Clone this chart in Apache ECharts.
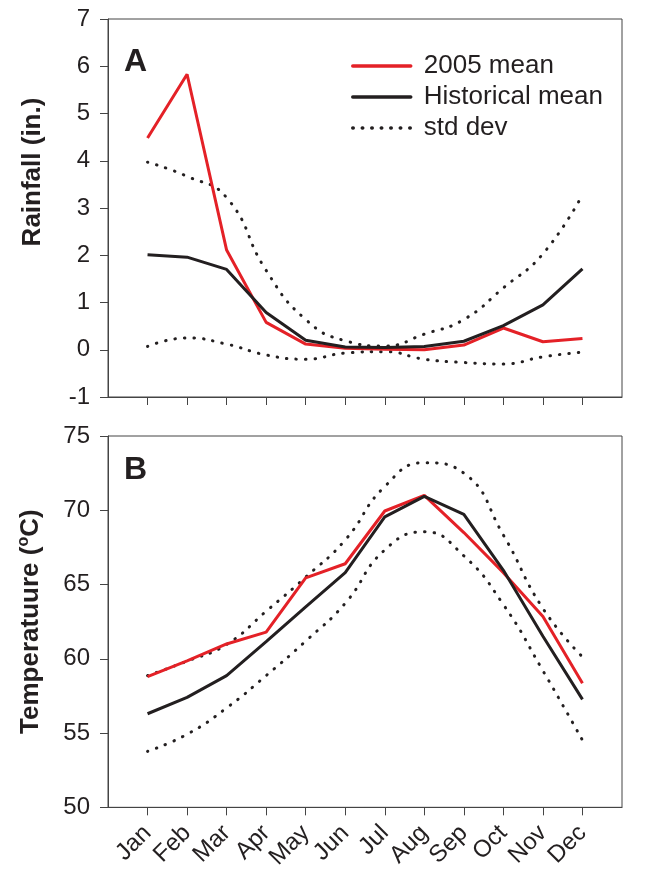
<!DOCTYPE html>
<html>
<head>
<meta charset="utf-8">
<script src="https://cdn.jsdelivr.net/npm/echarts@6/dist/echarts.min.js"></script>
<style>
  html, body { margin: 0; padding: 0; background: #fff; }
  #chart { width: 649px; height: 872px; }
</style>
</head>
<body>
<div id="chart"></div>
<script>
// months on the x axis (placed at 1..12)
const months = ['Jan', 'Feb', 'Mar', 'Apr', 'May', 'Jun', 'Jul', 'Aug', 'Sep', 'Oct', 'Nov', 'Dec'];

// panel A - rainfall (in.)
const rain2005 = [4.48, 5.83, 2.11, 0.58, 0.12, 0.03, 0.01, 0.0, 0.1, 0.46, 0.17, 0.24];
const rainHist = [2.01, 1.96, 1.70, 0.79, 0.20, 0.06, 0.05, 0.07, 0.18, 0.51, 0.95, 1.71];
const rainUpper = [3.97, 3.67, 3.22, 1.68, 0.64, 0.19, 0.08, 0.33, 0.64, 1.31, 2.03, 3.28];
const rainLower = [0.07, 0.25, 0.12, -0.11, -0.2, -0.07, -0.04, -0.2, -0.27, -0.3, -0.15, -0.05];

// panel B - temperature
const temp2005 = [58.8, 59.86, 61.0, 61.8, 65.45, 66.4, 69.95, 71.0, 68.5, 65.8, 62.85, 58.36];
const tempHist = [56.3, 57.4, 58.87, 61.15, 63.5, 65.8, 69.55, 70.94, 69.72, 65.96, 61.52, 57.27];
const tempUpper = [58.87, 59.84, 60.97, 63.2, 65.5, 68.0, 71.6, 73.2, 72.5, 68.33, 63.39, 60.13];
const tempLower = [53.77, 54.92, 56.69, 58.87, 61.19, 63.74, 67.33, 68.55, 66.93, 63.65, 59.2, 54.52];

const RED = '#e42127';
const BLACK = '#231f20';
const AXIS = '#444';
const FONT = 'Liberation Sans, Arial, sans-serif';
const monthPos = months.map((m, i) => i + 1);

function pts(arr) {
  return arr.map((v, i) => [i + 1, v]);
}

function xAxisFor(gridIndex, showLabels) {
  return {
    type: 'value', gridIndex: gridIndex, min: 0, max: 13,
    splitLine: { show: false },
    axisLine: { show: true, onZero: false, lineStyle: { color: AXIS, width: 1 } },
    axisTick: { show: true, length: 8, customValues: monthPos, lineStyle: { color: AXIS } },
    axisLabel: {
      show: showLabels, customValues: monthPos, rotate: 45, margin: 22,
      fontSize: 24, color: '#231f20', fontFamily: FONT,
      formatter: v => months[v - 1] || ''
    }
  };
}

function yAxisFor(gridIndex, min, max, interval, name) {
  return {
    type: 'value', gridIndex: gridIndex, min: min, max: max, interval: interval,
    splitLine: { show: false },
    axisLine: { show: true, lineStyle: { color: AXIS, width: 1 } },
    axisTick: { show: true, length: 8, lineStyle: { color: AXIS } },
    axisLabel: { fontSize: 24, color: '#231f20', fontFamily: FONT, margin: 18 },
    name: name.text,
    nameLocation: 'middle',
    nameGap: name.gap,
    nameTextStyle: name.style
  };
}

function meanLine(name, data, color, xi) {
  return {
    name: name, type: 'line', xAxisIndex: xi, yAxisIndex: xi, data: data,
    symbol: 'none', lineStyle: { color: color, width: 3 }, itemStyle: { color: color },
    z: 3
  };
}

function sdLine(data, xi) {
  return {
    name: 'std dev', type: 'line', xAxisIndex: xi, yAxisIndex: xi, data: data,
    symbol: 'none', smooth: true,
    lineStyle: { color: BLACK, width: 3, type: [0.5, 9], cap: 'round' },
    itemStyle: { color: BLACK },
    z: 2
  };
}

const chart = echarts.init(document.getElementById('chart'));
chart.setOption({
  backgroundColor: '#fff',
  animation: false,
  textStyle: { fontFamily: FONT },
  grid: [
    { left: 108, top: 19, width: 514, height: 378, show: true, borderColor: AXIS, borderWidth: 1 },
    { left: 108, top: 436, width: 514, height: 376, show: true, borderColor: AXIS, borderWidth: 1 }
  ],
  xAxis: [xAxisFor(0, false), xAxisFor(1, true)],
  yAxis: [
    yAxisFor(0, -1, 7, 1, {
      text: 'Rainfall (in.)', gap: 62,
      style: { fontSize: 26, fontWeight: 'bold', color: '#231f20', fontFamily: FONT, padding: [0, 0, 0, 72] }
    }),
    yAxisFor(1, 50, 75, 5, {
      text: '{t|Temperatuure (}{s|o}{t|C)}', gap: 62,
      style: {
        color: '#231f20', fontFamily: FONT,
        rich: {
          t: { fontSize: 26, fontWeight: 'bold', color: '#231f20', fontFamily: FONT, lineHeight: 30 },
          s: { fontSize: 16, fontWeight: 'bold', color: '#231f20', fontFamily: FONT, verticalAlign: 'top', padding: [0, 0, 10, 0] }
        }
      }
    })
  ],
  legend: {
    data: ['2005 mean', 'Historical mean', 'std dev'],
    orient: 'vertical', left: 346, top: 48,
    itemWidth: 58, itemHeight: 14, itemGap: 5,
    itemStyle: { opacity: 0 },
    lineStyle: { width: 3.5, cap: 'round' },
    textStyle: { fontSize: 26, color: '#231f20', fontFamily: FONT, padding: [0, 0, 0, 8] }
  },
  graphic: [
    { type: 'text', left: 124, top: 46, style: { text: 'A', fill: '#231f20', font: 'bold 32px ' + FONT } },
    { type: 'text', left: 124, top: 454, style: { text: 'B', fill: '#231f20', font: 'bold 32px ' + FONT } }
  ],
  series: [
    meanLine('2005 mean', pts(rain2005), RED, 0),
    meanLine('Historical mean', pts(rainHist), BLACK, 0),
    sdLine(pts(rainUpper), 0),
    sdLine(pts(rainLower), 0),
    meanLine('2005 mean', pts(temp2005), RED, 1),
    meanLine('Historical mean', pts(tempHist), BLACK, 1),
    sdLine(pts(tempUpper), 1),
    sdLine(pts(tempLower), 1)
  ]
});
</script>
</body>
</html>
